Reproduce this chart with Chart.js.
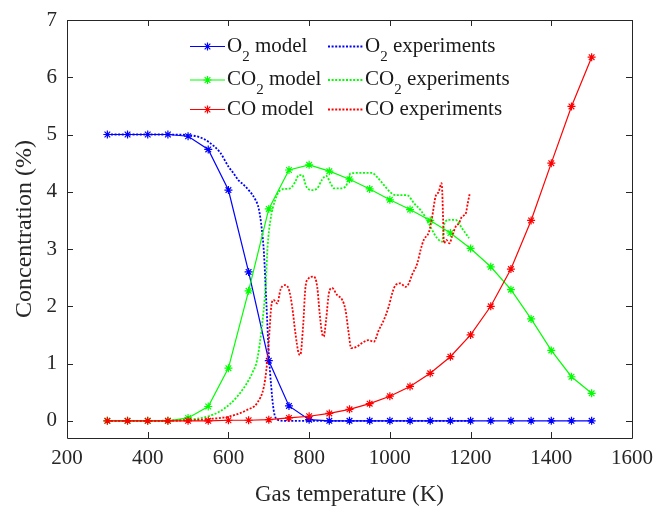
<!DOCTYPE html>
<html>
<head>
<meta charset="utf-8">
<script src="https://cdn.jsdelivr.net/npm/chart.js@4.4.0/dist/chart.umd.min.js"></script>
<style>
  html, body { margin: 0; padding: 0; background: #fff; }
  #wrap { width: 654px; height: 506px; position: relative; }
</style>
</head>
<body>
<div id="wrap"><canvas id="concChart"></canvas></div>
<script>
// model runs, every 50 K
const modelTemps = [300, 350, 400, 450, 500, 550, 600, 650, 700, 750, 800, 850, 900, 950, 1000, 1050, 1100, 1150, 1200, 1250, 1300, 1350, 1400, 1450, 1500];
const o2Model  = [5.0, 5.0, 5.0, 5.0, 4.97, 4.74, 4.03, 2.6, 1.05, 0.26, 0.02, 0, 0, 0, 0, 0, 0, 0, 0, 0, 0, 0, 0, 0, 0];
const co2Model = [0, 0, 0, 0, 0.05, 0.25, 0.92, 2.27, 3.7, 4.38, 4.47, 4.36, 4.22, 4.05, 3.86, 3.69, 3.5, 3.28, 3.01, 2.69, 2.29, 1.78, 1.23, 0.77, 0.48];
const coModel  = [0, 0, 0, 0, 0, 0, 0.01, 0.01, 0.02, 0.05, 0.08, 0.13, 0.2, 0.3, 0.43, 0.6, 0.83, 1.12, 1.5, 2.0, 2.65, 3.5, 4.5, 5.49, 6.35];

// experiments
const o2ExpT = [300, 350, 400, 450, 500, 530, 551, 580, 600, 613, 625, 638, 650, 667, 675, 683, 688, 694, 700, 706, 712, 721, 740, 800, 900, 1000, 1100, 1200];
const o2ExpC = [5.0, 5.0, 5.0, 5.0, 4.99, 4.95, 4.87, 4.68, 4.44, 4.32, 4.2, 4.12, 4.03, 3.86, 3.71, 3.33, 2.93, 2.06, 1.18, 0.6, 0.19, 0.02, 0, 0, 0, 0, 0, 0];

const co2ExpT = [300, 400, 450, 500, 551, 580, 605, 625, 646, 660, 671, 683, 692, 697, 704, 716, 729, 741, 753, 766, 774, 783, 793, 807, 820, 832, 842, 853, 862, 878, 890, 897, 902, 930, 956, 968, 985, 1000, 1014, 1043, 1060, 1076, 1092, 1105, 1117, 1130, 1134, 1146, 1163, 1179, 1196];
const co2ExpC = [0, 0, 0, 0.02, 0.08, 0.17, 0.3, 0.45, 0.66, 0.85, 1.06, 1.65, 2.34, 3.04, 3.5, 3.86, 4.03, 4.05, 4.06, 4.18, 4.29, 4.29, 4.09, 4.03, 4.06, 4.21, 4.28, 4.15, 4.06, 4.06, 4.09, 4.2, 4.32, 4.33, 4.33, 4.26, 4.12, 4.0, 3.94, 3.94, 3.8, 3.68, 3.51, 3.33, 3.19, 3.13, 3.42, 3.51, 3.51, 3.36, 3.19];

const coExpT = [300, 400, 500, 550, 605, 646, 671, 688, 694, 698, 702, 706, 712, 721, 729, 739, 750, 758, 766, 774, 778, 785, 791, 799, 811, 820, 826, 832, 836, 842, 849, 857, 869, 882, 890, 898, 904, 919, 931, 948, 960, 973, 985, 997, 1006, 1014, 1026, 1039, 1047, 1055, 1068, 1076, 1084, 1097, 1105, 1113, 1121, 1128, 1130, 1132, 1134, 1140, 1148, 1154, 1163, 1171, 1179, 1188, 1193, 1198];
const coExpC = [0, 0, 0.01, 0.03, 0.08, 0.19, 0.31, 0.6, 0.89, 1.18, 1.59, 1.99, 2.11, 2.05, 2.29, 2.37, 2.29, 1.99, 1.53, 1.18, 1.15, 1.65, 2.34, 2.49, 2.52, 2.34, 1.88, 1.53, 1.47, 1.76, 2.23, 2.32, 2.2, 2.11, 1.94, 1.53, 1.27, 1.3, 1.36, 1.41, 1.38, 1.59, 1.76, 1.99, 2.23, 2.37, 2.4, 2.34, 2.4, 2.55, 2.75, 2.98, 3.16, 3.3, 3.57, 3.91, 4.0, 4.15, 3.97, 3.51, 3.1, 3.16, 3.1, 3.22, 3.39, 3.45, 3.57, 3.62, 3.8, 3.97];

const xTicks = [200, 400, 600, 800, 1000, 1200, 1400, 1600];
const yTicks = [0, 1, 2, 3, 4, 5, 6, 7];

const BLUE = '#0000ff', GREEN = '#00ff00', RED = '#ff0000';
const AXIS = '#262626';
const SERIF = '"Liberation Serif", serif';

function pts(xs, ys) {
    return xs.map((v, i) => ({ x: v, y: ys[i] }));
}

function modelSet(label, ys, color, order) {
    return {
        label: label, data: pts(modelTemps, ys), order: order,
        borderColor: color, backgroundColor: color, borderWidth: 1.2,
        pointStyle: 'star', pointRadius: 4, pointBorderWidth: 1.2,
        pointBorderColor: color, pointBackgroundColor: color, tension: 0
    };
}

function expSet(label, xs, ys, color, order) {
    return {
        label: label, data: pts(xs, ys), order: order,
        borderColor: color, backgroundColor: color, borderWidth: 1.8,
        borderDash: [2, 1.6], pointRadius: 0, cubicInterpolationMode: 'monotone'
    };
}

// box + inward ticks on all four sides, matlab style
const axesBox = {
    id: 'axesBox',
    beforeDatasetsDraw(chart) {
        const { ctx, chartArea: a, scales: { x, y } } = chart;
        ctx.save();
        ctx.strokeStyle = AXIS;
        ctx.lineWidth = 1;
        ctx.beginPath();
        ctx.rect(Math.round(a.left) + 0.5, Math.round(a.top) + 0.5, Math.round(a.right - a.left), Math.round(a.bottom - a.top));
        x.ticks.forEach(t => {
            const px = Math.round(x.getPixelForValue(t.value)) + 0.5;
            ctx.moveTo(px, a.bottom); ctx.lineTo(px, a.bottom - 6);
            ctx.moveTo(px, a.top); ctx.lineTo(px, a.top + 6);
        });
        y.ticks.forEach(t => {
            const py = Math.round(y.getPixelForValue(t.value)) + 0.5;
            ctx.moveTo(a.left, py); ctx.lineTo(a.left + 6, py);
            ctx.moveTo(a.right, py); ctx.lineTo(a.right - 6, py);
        });
        ctx.stroke();
        ctx.restore();
    }
};

// draws "CO₂ model" with a lowered small 2
function drawSubLabel(ctx, text, x, y) {
    let cx = x;
    for (const ch of text) {
        if (ch === '\u2082') {
            ctx.font = '15px ' + SERIF;
            ctx.fillText('2', cx, y + 9);
            cx += ctx.measureText('2').width;
        } else {
            ctx.font = '21px ' + SERIF;
            ctx.fillText(ch, cx, y);
            cx += ctx.measureText(ch).width;
        }
    }
}

const legendCols = [190, 328];
const legendRows = [46.5, 80, 109.5];

const twoColLegend = {
    id: 'twoColLegend',
    afterDatasetsDraw(chart) {
        const ctx = chart.ctx;
        ctx.save();
        chart.data.datasets.forEach((ds, i) => {
            const lx = legendCols[i % 2];
            const ly = legendRows[Math.floor(i / 2)];
            ctx.strokeStyle = ds.borderColor;
            ctx.fillStyle = ds.borderColor;
            ctx.lineWidth = ds.borderWidth;
            ctx.setLineDash(ds.borderDash || []);
            ctx.beginPath();
            ctx.moveTo(lx, ly); ctx.lineTo(lx + 35, ly);
            ctx.stroke();
            ctx.setLineDash([]);
            if (ds.pointRadius > 0) {
                ctx.lineWidth = ds.pointBorderWidth;
                Chart.helpers.drawPoint(ctx, { pointStyle: 'star', radius: ds.pointRadius, borderWidth: ds.pointBorderWidth, rotation: 0 }, lx + 17.5, ly);
            }
            ctx.fillStyle = '#1a1a1a';
            ctx.textBaseline = 'alphabetic';
            ctx.textAlign = 'left';
            drawSubLabel(ctx, ds.label, lx + 37, ly + 5);
        });
        ctx.restore();
    }
};

const ctx = document.getElementById('concChart').getContext('2d');
new Chart(ctx, {
    type: 'line',
    data: {
        datasets: [
            modelSet('O\u2082 model', o2Model, BLUE, 5),
            expSet('O\u2082 experiments', o2ExpT, o2ExpC, BLUE, 4),
            modelSet('CO\u2082 model', co2Model, GREEN, 3),
            expSet('CO\u2082 experiments', co2ExpT, co2ExpC, GREEN, 2),
            modelSet('CO model', coModel, RED, 1),
            expSet('CO experiments', coExpT, coExpC, RED, 0)
        ]
    },
    options: {
        responsive: true, maintainAspectRatio: false, animation: false, events: [],
        layout: { padding: { top: 20, right: 22, left: 0, bottom: 0 } },
        plugins: { legend: { display: false }, tooltip: { enabled: false } },
        scales: {
            x: {
                type: 'linear', min: 200, max: 1600,
                grid: { display: false }, border: { display: false },
                afterBuildTicks: s => { s.ticks = xTicks.map(v => ({ value: v })); },
                afterFit: s => { s.height = 68; },
                ticks: { color: AXIS, padding: 0, maxRotation: 0, font: { family: SERIF, size: 21 }, callback: v => String(v) },
                title: { display: true, text: 'Gas temperature (K)', color: AXIS, padding: { top: 0, bottom: 0 }, font: { family: SERIF, size: 23, lineHeight: 1.0 } }
            },
            y: {
                type: 'linear', min: -0.3, max: 7,
                grid: { display: false }, border: { display: false },
                afterBuildTicks: s => { s.ticks = yTicks.map(v => ({ value: v })); },
                afterFit: s => { s.width = 67; },
                ticks: { color: AXIS, padding: 2, font: { family: SERIF, size: 21 }, callback: v => String(v) },
                title: { display: true, text: 'Concentration (%)', color: AXIS, padding: { top: 10, bottom: 0 }, font: { family: SERIF, size: 24 } }
            }
        }
    },
    plugins: [axesBox, twoColLegend]
});
</script>
</body>
</html>
